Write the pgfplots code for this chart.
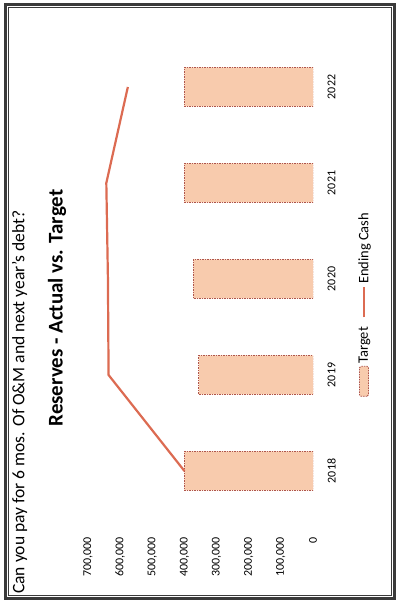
\documentclass[border=0pt]{standalone}
\usepackage{pgfplots}
\pgfplotsset{compat=1.18}
\usepackage{fontspec}
\setmainfont{Carlito}
\definecolor{targetfill}{HTML}{F8CBAD}
\definecolor{targetedge}{HTML}{B0554A}
\definecolor{cashline}{HTML}{DC6B52}
\definecolor{framegray}{HTML}{3A3A3A}
\newcommand{\legfont}{\fontsize{14.5}{17}\selectfont}
\pgfplotsset{
  boxlegend/.style={legend image code/.code={%
    \draw[##1, rounded corners=1.5bp] (0bp,-4.5bp) rectangle (30bp,4.5bp);}},
  linelegend/.style={legend image code/.code={%
    \draw[##1] (0bp,0bp) -- (30bp,0bp);}},
}
\begin{document}
\begin{tikzpicture}[x=1bp,y=1bp]
\useasboundingbox (0,0) rectangle (399,603);
% double frame around the sheet
\draw[framegray, line width=2.4bp] (5.5,4.5) rectangle (394.5,598.5);
\draw[framegray, line width=0.7bp] (8.5,7.5) rectangle (391.5,595.5);
\begin{axis}[
  at={(200.5bp,324bp)}, anchor=center,
  width=225bp, height=480bp, scale only axis,
  xbar, x dir=reverse,
  xmin=0, xmax=700000, ymin=-0.5, ymax=4.5,
  xtick={0,100000,...,700000},
  ytick={0,1,2,3,4}, yticklabels={2018,2019,2020,2021,2022},
  scaled x ticks=false,
  /pgf/number format/fixed,
  /pgf/number format/1000 sep={,},
  /pgf/number format/assume math mode=true,
  axis line style={draw=none}, major tick length=0pt,
  yticklabel pos=right,
  ticklabel style={font=\fontsize{12}{14}\selectfont},
  xticklabel style={yshift=-15bp, rotate=90, anchor=east},
  yticklabel style={xshift=11bp, rotate=90, anchor=north},
  bar width=39bp,
  legend to name=cashlegend,
  legend columns=2,
  legend style={draw=none, fill=none, nodes={inner sep=2.5bp},
    /tikz/every even column/.append style={column sep=6bp}},
]
\addplot[fill=targetfill, draw=targetedge, dash pattern=on 1.5bp off 1bp,
  line width=0.8bp, boxlegend]
  coordinates {(400000,0) (355000,1) (372000,2) (400000,3) (400000,4)};
\addlegendentry{\legfont Target}
\addplot[sharp plot, cashline, line width=2.2bp, mark=none, linelegend]
  coordinates {(400000,0) (636000,1) (638000,2) (643000,3) (576000,4)};
\addlegendentry{\legfont Ending Cash}
\end{axis}
\node[rotate=90, inner sep=0pt] at (364,299.5) {\pgfplotslegendfromname{cashlegend}};
\node[rotate=90, font=\fontsize{21}{25}\selectfont\bfseries] at (57,295)
  {Reserves - Actual vs. Target};
\node[rotate=90, anchor=west, inner sep=0pt, font=\fontsize{17.6}{21}\selectfont]
  at (19.5,9) {Can you pay for 6 mos. Of O\&M and next year's debt?};
\end{tikzpicture}
\end{document}
